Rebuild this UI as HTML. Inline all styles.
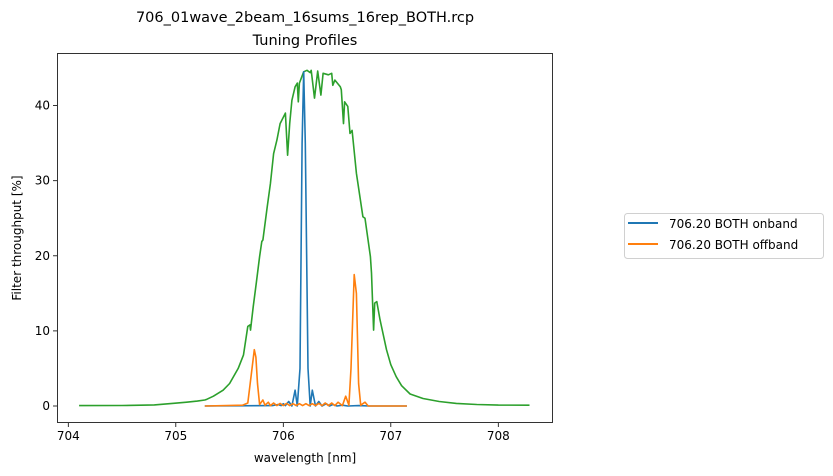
<!DOCTYPE html>
<html><head><meta charset="utf-8">
<style>
body{margin:0;background:#fff;}
svg{display:block;font-family:"DejaVu Sans","Liberation Sans",sans-serif;}
</style></head>
<body>
<svg id="chart" width="833" height="476" viewBox="0 0 833 476">
<rect width="833" height="476" fill="#fff"/>
<text x="305" y="22" text-anchor="middle" font-size="14.5" fill="#000">706_01wave_2beam_16sums_16rep_BOTH.rcp</text>
<text x="305" y="45" text-anchor="middle" font-size="14.5" fill="#000">Tuning Profiles</text>
<g id="axes"></g>
<text x="305" y="462" text-anchor="middle" font-size="12">wavelength [nm]</text>
<text transform="translate(21,238) rotate(-90)" text-anchor="middle" font-size="12">Filter throughput [%]</text>
<g>
<rect x="624.5" y="213.5" width="199" height="45" rx="3" fill="#fff" stroke="#d0d0d0"/>
<line x1="628" y1="223" x2="658" y2="223" stroke="#1f77b4" stroke-width="2"/>
<text x="669" y="228" font-size="12">706.20 BOTH onband</text>
<line x1="628" y1="244" x2="658" y2="244" stroke="#ff7f0e" stroke-width="2"/>
<text x="669" y="249" font-size="12">706.20 BOTH offband</text>
</g>
</svg>
<script>
const xTicks = [704, 705, 706, 707, 708];
const yTicks = [0, 10, 20, 30, 40];
const greenX = [704.1,704.5,704.8,704.98,705.1,705.2,705.27,705.29,705.35,705.44,705.5,705.58,705.63,705.67,705.69,705.695,705.72,705.75,705.78,705.80,705.81,705.85,705.88,705.91,705.94,705.97,706.02,706.04,706.06,706.08,706.11,706.13,706.14,706.15,706.19,706.22,706.25,706.26,706.29,706.32,706.35,706.37,706.42,706.45,706.46,706.48,706.53,706.54,706.56,706.57,706.60,706.62,706.64,706.68,706.74,706.76,706.81,706.82,706.84,706.85,706.87,706.90,706.96,707.0,707.05,707.1,707.18,707.30,707.45,707.61,707.8,708.0,708.29];
const greenY = [0.05,0.06,0.15,0.36,0.5,0.65,0.8,0.9,1.3,2.1,3.0,5.0,6.8,10.6,10.8,10.1,13.2,16.5,19.9,21.9,22.1,26.5,29.6,33.6,35.4,37.6,39.0,33.4,37.6,40.7,42.5,43.0,40.5,43.0,44.5,44.7,44.4,44.7,41.0,44.6,41.4,44.3,44.1,44.3,42.7,43.4,42.5,42.1,37.6,40.5,39.9,36.3,36.7,31.0,25.2,25.0,19.9,17.7,10.1,13.7,13.9,11.5,7.5,5.5,3.9,2.7,1.6,1.0,0.6,0.35,0.2,0.12,0.1];
const onX = [705.27,705.9,705.95,705.98,706.0,706.02,706.05,706.08,706.11,706.13,706.155,706.175,706.19,706.205,706.23,706.25,706.27,706.3,706.33,706.36,706.4,706.43,706.46,706.5,706.55,706.6,706.7,706.8,706.85,707.15];
const onY = [0,0.05,0.2,0.05,0.3,0.05,0.6,0,2.1,0,5,35,44.5,35,5,0,2.1,0,0.6,0,0.3,0,0.2,0,0.1,0,0.05,0,0,0];
const offX = [705.27,705.62,705.67,705.70,705.73,705.745,705.76,705.78,705.81,705.83,705.86,705.88,705.91,705.94,705.97,706.0,706.03,706.06,706.09,706.12,706.15,706.18,706.21,706.24,706.27,706.30,706.33,706.36,706.39,706.42,706.45,706.48,706.51,706.55,706.58,706.61,706.63,706.66,706.68,706.70,706.72,706.76,706.79,707.15];
const offY = [0,0.1,0.4,4,7.5,6.5,3,0.2,0.8,0.1,0.5,0.05,0.4,0.05,0.35,0.05,0.35,0.05,0.3,0.05,0.3,0.05,0.3,0.05,0.3,0.05,0.35,0.05,0.4,0.05,0.4,0.05,0.5,0.05,1.3,0.1,5,17.5,15,3,0.1,0.5,0,0];

const L=57,R=553,T=53,B=423;
const X = v => 68.3 + (v-704)*107.5;
const Y = v => 406 - v*7.51;
const NS='http://www.w3.org/2000/svg';
const g=document.getElementById('axes');
function mk(tag,attrs){const e=document.createElementNS(NS,tag);for(const k in attrs)e.setAttribute(k,attrs[k]);g.appendChild(e);return e;}
function series(xs,ys,color,name){
  const d=xs.map((x,i)=>(i?'L':'M')+X(x).toFixed(1)+','+Y(ys[i]).toFixed(1)).join(' ');
  const p=mk('path',{d:d,fill:'none',stroke:color,'stroke-width':1.6,'stroke-linejoin':'round'});
  
  
}
xTicks.forEach(t=>{
  const l=mk('line',{x1:X(t),x2:X(t),y1:B,y2:B+4,stroke:'#000','stroke-width':0.8});
  
  
  const tx=mk('text',{x:X(t),y:B+17,'text-anchor':'middle','font-size':12});
  tx.textContent=t;
  
  
});
yTicks.forEach(t=>{
  const l=mk('line',{x1:L-4,x2:L,y1:Y(t),y2:Y(t),stroke:'#000','stroke-width':0.8});
  
  
  const tx=mk('text',{x:L-7,y:Y(t)+4,'text-anchor':'end','font-size':12});
  tx.textContent=t;
  
  
});
series(greenX,greenY,'#2ca02c','filter-profile-line');
series(onX,onY,'#1f77b4','onband-line');
series(offX,offY,'#ff7f0e','offband-line');
const fr=mk('rect',{x:L+0.5,y:T+0.5,width:R-L-1,height:B-T-1,fill:'none',stroke:'#000','stroke-width':0.8});


</script>
</body></html>
